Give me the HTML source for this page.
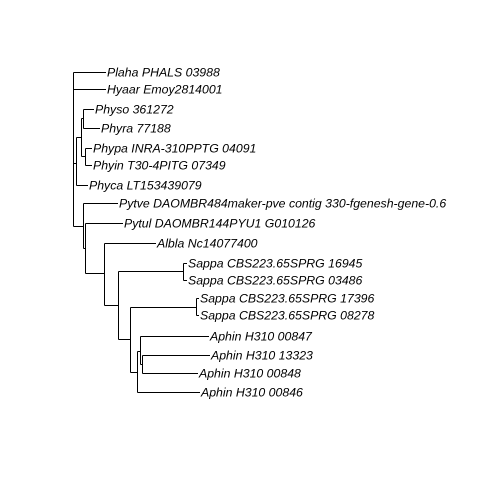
<!DOCTYPE html>
<html><head><style>
html,body{margin:0;padding:0;background:#fff;}
svg text{font-family:"Liberation Sans",sans-serif;font-style:italic;font-size:12.3px;fill:#000;}
</style></head><body>
<svg width="480" height="480" viewBox="0 0 480 480" xmlns="http://www.w3.org/2000/svg">
<g stroke="#000" stroke-width="1" fill="none">
<!-- root -->
<path d="M73.5 72.5V226.5"/>
<path d="M73.5 72.5H106"/>
<path d="M73.5 89.5H106"/>
<!-- phytophthora clade -->
<path d="M73.5 163.5H76.5"/>
<path d="M76.5 137.5V185.5"/>
<path d="M76.5 185.5H88"/>
<path d="M76.5 137.5H81.5"/>
<path d="M81.5 118.5V156.5"/>
<path d="M81.5 118.5H83.5"/>
<path d="M83.5 109.5V128.5"/>
<path d="M83.5 109.5H94"/>
<path d="M83.5 128.5H100"/>
<path d="M81.5 156.5H85.5"/>
<path d="M85.5 148.5V165.5"/>
<path d="M85.5 148.5H92"/>
<path d="M85.5 165.5H92"/>
<!-- lower clade -->
<path d="M73.5 226.5H83.5"/>
<path d="M83.5 203.5V248.5"/>
<path d="M83.5 203.5H118"/>
<path d="M83.5 248.5H85.5"/>
<path d="M85.5 223.5V273.5"/>
<path d="M85.5 223.5H123"/>
<path d="M85.5 273.5H104.5"/>
<path d="M104.5 243.5V305.5"/>
<path d="M104.5 243.5H156"/>
<path d="M104.5 305.5H118.5"/>
<path d="M118.5 271.5V339.5"/>
<path d="M118.5 271.5H183.5"/>
<path d="M183.5 263.5V280.5"/>
<path d="M183.5 263.5H187"/>
<path d="M183.5 280.5H187"/>
<path d="M118.5 339.5H130.5"/>
<path d="M130.5 307.5V372.5"/>
<path d="M130.5 307.5H196.5"/>
<path d="M196.5 298.5V315.5"/>
<path d="M196.5 298.5H199"/>
<path d="M196.5 315.5H199"/>
<path d="M130.5 372.5H137.5"/>
<path d="M137.5 351.5V392.5"/>
<path d="M137.5 392.5H200"/>
<path d="M137.5 351.5H140.5"/>
<path d="M140.5 336.5V364.5"/>
<path d="M140.5 336.5H209"/>
<path d="M140.5 364.5H142.5"/>
<path d="M142.5 355.5V373.5"/>
<path d="M142.5 355.5H210"/>
<path d="M142.5 373.5H198"/>
</g>
<g>
<text x="107" y="76.5">Plaha PHALS 03988</text>
<text x="107" y="93.5">Hyaar Emoy2814001</text>
<text x="95" y="113.5">Physo 361272</text>
<text x="101" y="132.5">Phyra 77188</text>
<text x="93" y="152.5">Phypa INRA-310PPTG 04091</text>
<text x="93" y="169.5">Phyin T30-4PITG 07349</text>
<text x="89" y="189.5">Phyca LT153439079</text>
<text x="119" y="207.5">Pytve DAOMBR484maker-pve contig 330-fgenesh-gene-0.6</text>
<text x="124" y="227.5">Pytul DAOMBR144PYU1 G010126</text>
<text x="157" y="247.5">Albla Nc14077400</text>
<text x="188" y="267.5">Sappa CBS223.65SPRG 16945</text>
<text x="188" y="284.5">Sappa CBS223.65SPRG 03486</text>
<text x="200" y="302.5">Sappa CBS223.65SPRG 17396</text>
<text x="200" y="319.5">Sappa CBS223.65SPRG 08278</text>
<text x="210" y="340.5">Aphin H310 00847</text>
<text x="211" y="359.5">Aphin H310 13323</text>
<text x="199" y="377.5">Aphin H310 00848</text>
<text x="201" y="396.5">Aphin H310 00846</text>
</g>
</svg>
</body></html>
